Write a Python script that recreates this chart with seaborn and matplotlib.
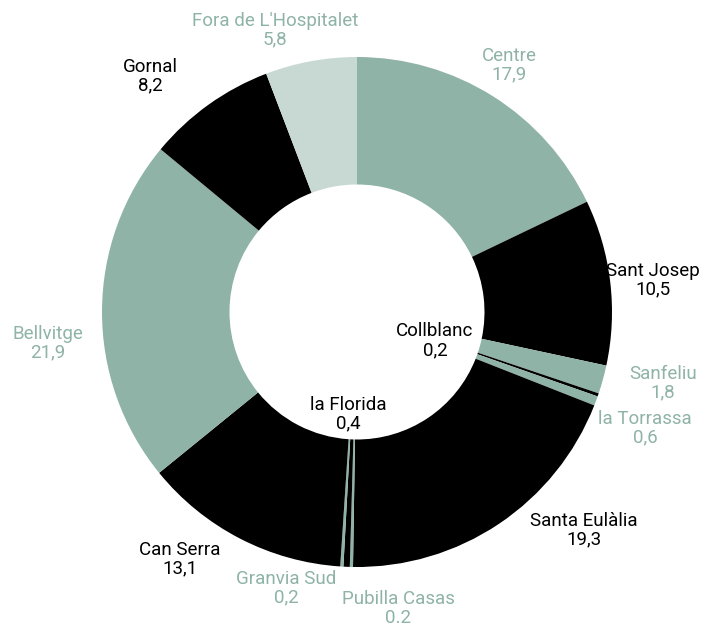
import matplotlib
matplotlib.use('Agg')
import matplotlib.pyplot as plt
import seaborn as sns

# ── data (clockwise from top) ──
barris = ['Centre', 'Sant Josep', 'Sanfeliu', 'Collblanc', 'la Torrassa',
          'Santa Eulàlia', 'Pubilla Casas', 'la Florida', 'Granvia Sud',
          'Can Serra', 'Bellvitge', 'Gornal', "Fora de L'Hospitalet"]
valors = [17.9, 10.5, 1.8, 0.2, 0.6, 19.3, 0.2, 0.4, 0.2, 13.1, 21.9, 8.2, 5.8]
etiquetes_valor = ['17,9', '10,5', '1,8', '0,2', '0,6', '19,3', '0.2', '0,4',
                   '0,2', '13,1', '21,9', '8,2', '5,8']
tipus = ['g', 'k', 'g', 'k', 'g', 'k', 'g', 'k', 'g', 'k', 'g', 'k', 'l']

GREEN = '#8fb3a6'
LIGHT = '#c8d8d3'
BLACK = '#000000'
slice_col = {'g': GREEN, 'k': BLACK, 'l': LIGHT}
text_col = {'g': GREEN, 'k': BLACK, 'l': GREEN}

# label positions in pie units (centre = 0,0, radius = 1)
label_pos = [(0.596, 0.969), (1.161, 0.125), (1.200, -0.278), (0.306, -0.112),
             (1.129, -0.455), (0.890, -0.855), (0.161, -1.162), (-0.035, -0.400),
             (-0.278, -1.082), (-0.694, -0.969), (-1.212, -0.122), (-0.812, 0.925),
             (-0.322, 1.106)]

sns.set_theme(style='white')
plt.rcParams['font.family'] = ['Roboto', 'DejaVu Sans']

fig = plt.figure(figsize=(7.14, 6.28), dpi=100)
ax = fig.add_axes([0, 0, 1, 1])

ax.pie(valors, colors=[slice_col[t] for t in tipus], startangle=90,
       counterclock=False, radius=1.0,
       wedgeprops=dict(width=0.5, edgecolor='none', linewidth=0))

for nom, val, t, (x, y) in zip(barris, etiquetes_valor, tipus, label_pos):
    ax.text(x, y, f'{nom}\n{val}', ha='center', va='center',
            fontsize=13.5, color=text_col[t], linespacing=1.05)

ax.set_xlim(-357 / 255, (714 - 357) / 255)
ax.set_ylim((312 - 628) / 255, 312 / 255)
ax.set_aspect('equal')
ax.axis('off')

fig.savefig('out.png', dpi=100, facecolor='white')
